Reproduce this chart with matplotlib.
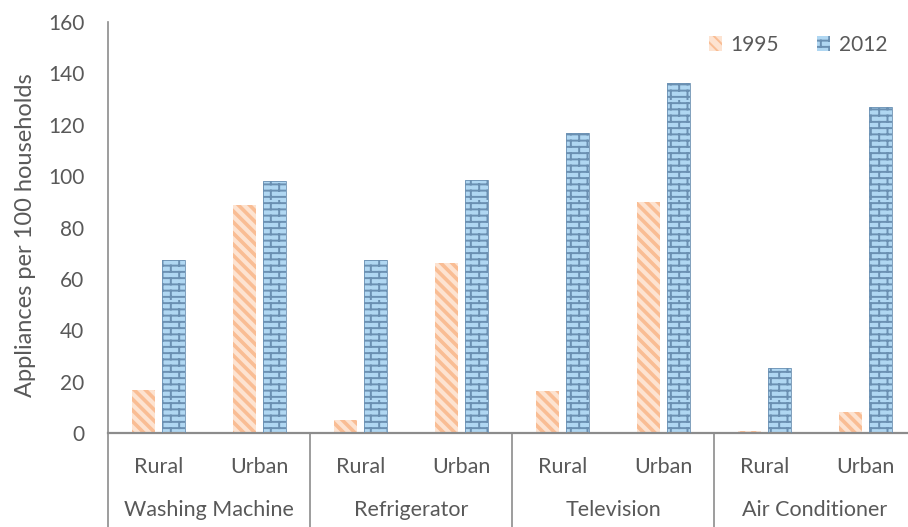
import warnings
import numpy as np
import matplotlib
matplotlib.use("Agg")
import matplotlib.pyplot as plt
import matplotlib.hatch as mhatch
from matplotlib.path import Path
from matplotlib.patches import Patch

warnings.filterwarnings("ignore")

# ---- data -------------------------------------------------------------
appliances = ["Washing Machine", "Refrigerator", "Television", "Air Conditioner"]
areas = ["Rural", "Urban"]
series_names = ["1995", "2012"]
values_1995 = [16.9, 88.7, 5.1, 66.2, 16.5, 89.8, 0.6, 8.1]
values_2012 = [67.2, 98.0, 67.3, 98.5, 116.9, 136.1, 25.4, 126.8]
yticks = [0, 20, 40, 60, 80, 100, 120, 140, 160]

TEXT = "#595959"
AXIS = "#8c8c8c"
FILL_95, LINE_95 = "#fde3d1", "#f9bd94"
FILL_12, LINE_12 = "#b0d7f2", "#6b90b2"


# ---- custom hatch patterns ---------------------------------------------
class BrickHatch(mhatch.HatchPatternBase):
    """Staggered brick courses, selected with the character 'b'."""
    rows, cols = 16, 6

    def __init__(self, hatch, density):
        self.active = "b" in hatch
        r, c = self.rows, self.cols
        # horizontal mortar lines + vertical joints (last course split in two)
        self.num_vertices = (r + r * c + c) * 2 if self.active else 0

    def set_vertices_and_codes(self, vertices, codes):
        r, c = self.rows, self.cols
        segs = []
        ys = (np.arange(r) + 0.5) / r
        for y in ys:
            segs.append(((0.0, y), (1.0, y)))
        for i, y in enumerate(ys):
            off = 0.25 if i % 2 == 0 else 0.75
            for j in range(c):
                x = (j + off) / c
                if i < r - 1:
                    segs.append(((x, y), (x, y + 1.0 / r)))
                else:
                    segs.append(((x, y), (x, 1.0)))
        # wrap-around piece of the top course at the bottom of the tile
        off = 0.25 if r % 2 == 0 else 0.75
        for j in range(c):
            x = (j + off) / c
            segs.append(((x, 0.0), (x, ys[0])))
        arr = np.array(segs, dtype=float).reshape(-1, 2)
        vertices[:] = arr
        codes[0::2] = Path.MOVETO
        codes[1::2] = Path.LINETO


class BackStripeHatch(mhatch.HatchPatternBase):
    """Wide back-diagonal stripes, selected with the character 'd'."""
    n = 9

    def __init__(self, hatch, density):
        self.active = "d" in hatch
        self.num_vertices = (2 * self.n + 1) * 2 if self.active else 0

    def set_vertices_and_codes(self, vertices, codes):
        ks = np.arange(-self.n, self.n + 1) / self.n
        vertices[0::2, 0] = ks
        vertices[0::2, 1] = 1.0
        vertices[1::2, 0] = ks + 1.0
        vertices[1::2, 1] = 0.0
        codes[0::2] = Path.MOVETO
        codes[1::2] = Path.LINETO


mhatch._hatch_types.append(BrickHatch)
mhatch._hatch_types.append(BackStripeHatch)

plt.rcParams["font.family"] = ["Lato", "DejaVu Sans"]
plt.rcParams["font.size"] = 15

W, H = 908, 527
fig = plt.figure(figsize=(W / 100, H / 100), dpi=100)
left_px, right_px, top_px, bottom_px = 108, 916, 22, 433
ax = fig.add_axes([left_px / W, 1 - bottom_px / H,
                   (right_px - left_px) / W, (bottom_px - top_px) / H])

x = np.arange(len(values_1995))
bw, off = 0.225, 0.145


def styled_bars(xpos, vals, fill, line, hatch, hlw):
    bars = ax.bar(xpos, vals, bw, color=fill, edgecolor=line, linewidth=0,
                  hatch=hatch, zorder=2)
    for b in bars:
        if hasattr(b, "set_hatch_linewidth"):
            b.set_hatch_linewidth(hlw)
    return bars


plt.rcParams["hatch.linewidth"] = 2.6
b95 = styled_bars(x - off, values_1995, FILL_95, LINE_95, "d", 2.6)
plt.rcParams["hatch.linewidth"] = 1.4
b12 = styled_bars(x + off, values_2012, FILL_12, LINE_12, "b", 1.4)
# thin cap along the top of the 2012 bars
ax.bar(x + off, values_2012, bw, fill=False, edgecolor=LINE_12, linewidth=0.6,
       zorder=3)

ax.set_xlim(-0.5, len(x) - 0.5)
ax.set_ylim(0, 160)
ax.set_yticks(yticks)
ax.set_yticklabels([str(v) for v in yticks])
ax.tick_params(axis="y", length=0, pad=17, labelcolor=TEXT, labelsize=15)
ax.set_xticks(x)
ax.set_xticklabels([areas[i % 2] for i in x])
ax.tick_params(axis="x", length=0, pad=17, labelcolor=TEXT, labelsize=15.5)

for s in ["top", "right"]:
    ax.spines[s].set_visible(False)
ax.spines["left"].set_visible(False)
ax.spines["bottom"].set_color(AXIS)
ax.spines["bottom"].set_linewidth(1.6)

# group labels and separators below the axis
trans = ax.get_xaxis_transform()
plot_h = bottom_px - top_px
bottom_ax = -(H - bottom_px) / plot_h
for g, name in enumerate(appliances):
    ax.text(2 * g + 0.5, -(510 - bottom_px) / plot_h, name, transform=trans,
            ha="center", va="center", color=TEXT, fontsize=15.5)
for g in range(len(appliances) + 1):
    xs = 2 * g - 0.5
    y0 = 1.0 if g == 0 else 0.0
    ax.plot([xs, xs], [y0, bottom_ax], transform=trans, color=AXIS,
            lw=1.2, clip_on=False, zorder=1)

ax.set_ylabel("Appliances per 100 households", color=TEXT, fontsize=17)
ax.yaxis.set_label_coords(-(left_px - 36) / (right_px - left_px),
                          (bottom_px - 235) / plot_h)

handles = [Patch(facecolor=FILL_95, edgecolor=LINE_95, linewidth=0, hatch="d"),
           Patch(facecolor=FILL_12, edgecolor=LINE_12, linewidth=0, hatch="b")]
leg = ax.legend(handles, series_names, ncol=2, frameon=False,
                loc="center", bbox_to_anchor=(798 / W, 1 - 45 / H),
                bbox_transform=fig.transFigure, handlelength=0.65,
                handleheight=0.7, handletextpad=0.4, columnspacing=1.8,
                fontsize=15)
for t in leg.get_texts():
    t.set_color(TEXT)

fig.savefig("out.png", dpi=100)
